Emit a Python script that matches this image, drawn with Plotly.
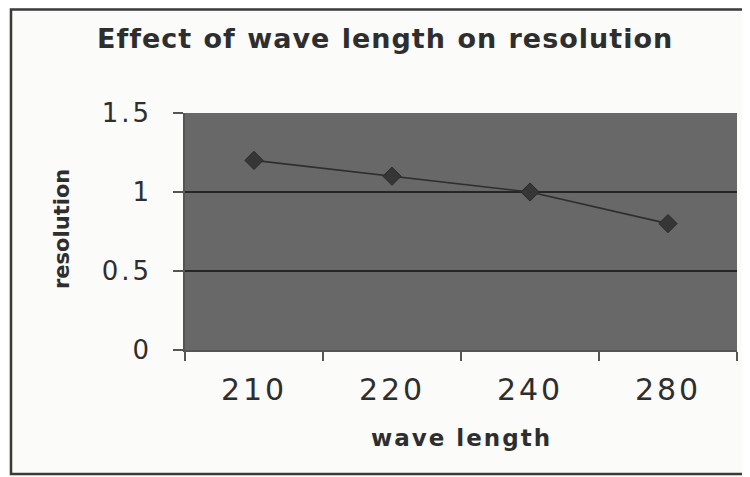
import plotly.graph_objects as go

# ---- data ----
wavelengths = ["210", "220", "240", "280"]
resolution = [1.2, 1.1, 1.0, 0.8]
y_ticks = [0, 0.5, 1, 1.5]
y_tick_labels = ["0", "0.5", "1", "1.5"]

title_text = "Effect of wave length on resolution"
x_title = "wave length"
y_title = "resolution"

TXT = "#2e2e2e"


def spaced(s, px, word=0):
    return f'<span style="letter-spacing:{px}px;word-spacing:{word}px">{s}</span>'


# the page body has an 8px margin: work in page pixels, convert to figure pixels
OFF = 8
W, H = 750 - OFF, 477 - OFF
PL, PR, PT, PB = 185, 737, 113, 350          # plot area in page pixels
L, R, T, B = PL - OFF, W - (PR - OFF), PT - OFF, H - (PB - OFF)
pw, ph = W - L - R, H - T - B


def px_x(x):
    return (x - OFF - L) / pw


def px_y(y):
    return (H - B - (y - OFF)) / ph


fig = go.Figure()
fig.add_trace(go.Scatter(
    x=wavelengths, y=resolution, mode="lines+markers",
    line=dict(color="#2e2e2e", width=1.6),
    marker=dict(symbol="diamond", size=14, color="#363636",
                line=dict(color="#2a2a2a", width=1)),
    showlegend=False, hoverinfo="x+y",
))

fig.update_layout(
    width=W, height=H,
    margin=dict(l=L, r=R, t=T, b=B),
    paper_bgcolor="#fbfbfa",
    plot_bgcolor="#686868",
    font=dict(family="DejaVu Sans", color=TXT),
    title=dict(
        text=spaced(title_text, 1, 1),
        xref="container", yref="container",
        x=(97 - OFF) / W, xanchor="left",
        y=1 - (39 - OFF) / H, yanchor="middle",
        font=dict(family="DejaVu Sans", size=27, color=TXT, weight="bold"),
    ),
    xaxis=dict(
        type="category",
        tickmode="array",
        tickvals=wavelengths,
        ticktext=[spaced(w, 3) for w in wavelengths],
        tickson="boundaries",
        ticks="outside", ticklen=9, tickcolor="#555555", tickwidth=1.5,
        showline=True, linecolor="#555555", linewidth=1.5,
        showgrid=False,
        tickfont=dict(family="DejaVu Sans", size=30, color=TXT),
        ticklabelstandoff=12,
        range=[-0.5, 3.5],
    ),
    yaxis=dict(
        range=[0, 1.5],
        tickmode="array",
        tickvals=y_ticks,
        ticktext=[spaced(t, 3) for t in y_tick_labels],
        ticks="outside", ticklen=10, tickcolor="#555555", tickwidth=1.5,
        showline=True, linecolor="#555555", linewidth=1.5,
        showgrid=True, gridcolor="#262626", gridwidth=1.6,
        zeroline=False,
        tickfont=dict(family="DejaVu Sans", size=26, color=TXT),
        ticklabelstandoff=16,
    ),
    annotations=[
        dict(text=spaced(x_title, 2), xref="paper", yref="paper",
             x=px_x(461), y=px_y(438), xanchor="center", yanchor="middle",
             showarrow=False,
             font=dict(family="DejaVu Sans", size=23, color=TXT, weight="bold")),
        dict(text=y_title, xref="paper", yref="paper",
             x=px_x(62), y=px_y(229), xanchor="center", yanchor="middle",
             textangle=-90, showarrow=False,
             font=dict(family="DejaVu Sans", size=21, color=TXT, weight="bold")),
    ],
    shapes=[
        dict(type="rect", xref="paper", yref="paper",
             x0=px_x(11), x1=px_x(770), y0=px_y(474), y1=px_y(9.5),
             line=dict(color="#3a3a3a", width=2.5), fillcolor="rgba(0,0,0,0)",
             layer="below"),
    ],
)

fig.write_html("out.html")
